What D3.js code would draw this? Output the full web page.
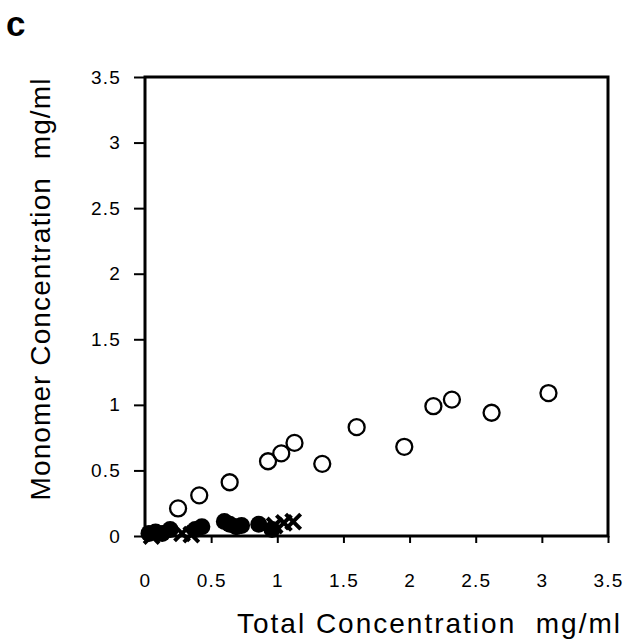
<!DOCTYPE html>
<html><head><meta charset="utf-8">
<script src="https://cdn.jsdelivr.net/npm/d3@7/dist/d3.min.js"></script>
<style>body{margin:0;background:#fff}</style>
</head><body>
<svg id="c" width="632" height="641"></svg>
<script>
// Data
const xTicks = [0, 0.5, 1, 1.5, 2, 2.5, 3, 3.5];
const yTicks = [0, 0.5, 1, 1.5, 2, 2.5, 3, 3.5];
const openX = [0.25, 0.41, 0.64, 0.93, 1.03, 1.13, 1.34, 1.60, 1.96, 2.18, 2.32, 2.62, 3.05];
const openY = [0.21, 0.31, 0.41, 0.57, 0.63, 0.71, 0.55, 0.83, 0.68, 0.99, 1.04, 0.94, 1.09];
const filledX = [0.03, 0.08, 0.13, 0.19, 0.38, 0.43, 0.60, 0.64, 0.69, 0.73, 0.86, 0.96];
const filledY = [0.02, 0.03, 0.02, 0.05, 0.05, 0.07, 0.11, 0.09, 0.07, 0.08, 0.09, 0.05];
const crossX = [0.05, 0.28, 0.35, 0.98, 1.05, 1.12];
const crossY = [0.00, 0.02, 0.01, 0.08, 0.10, 0.11];

const svg = d3.select('#c');
const L = 145, R = 608, T = 77, B = 536;
const x = d3.scaleLinear().domain([0, 3.5]).range([L, R]);
const y = d3.scaleLinear().domain([0, 3.5]).range([B, T]);
const font = '"Liberation Sans", Arial, Helvetica, sans-serif';

// axes
const xAxis = svg.append('g').attr('transform', `translate(0,${B})`)
  .call(d3.axisBottom(x).tickValues(xTicks).tickSize(7).tickPadding(31).tickFormat(d3.format('')));
const yAxis = svg.append('g').attr('transform', `translate(${L},0)`)
  .call(d3.axisLeft(y).tickValues(yTicks).tickSize(11).tickPadding(13).tickFormat(d3.format('')));
[xAxis, yAxis].forEach(a => {
  a.select('.domain').remove();
  a.selectAll('line').attr('stroke', '#000').attr('stroke-width', 2);
  a.selectAll('text').attr('font-family', font).attr('font-size', 19).attr('letter-spacing', 1.2).attr('fill', '#000');
});

// frame
svg.append('rect').attr('x', L).attr('y', T).attr('width', R - L).attr('height', B - T)
  .attr('fill', 'none').attr('stroke', '#000').attr('stroke-width', 3);

// data: open circles
svg.append('g').selectAll('circle').data(openX).join('circle')
  .attr('cx', (d) => x(d)).attr('cy', (d, i) => y(openY[i])).attr('r', 8)
  .attr('fill', 'none').attr('stroke', '#000').attr('stroke-width', 2.3);
// filled circles
svg.append('g').selectAll('circle').data(filledX).join('circle')
  .attr('cx', (d) => x(d)).attr('cy', (d, i) => y(filledY[i])).attr('r', 8.5)
  .attr('fill', '#000');
// crosses
const cs = 7.5;
svg.append('g').selectAll('path').data(crossX).join('path')
  .attr('d', (d, i) => {
    const cx = x(d), cy = y(crossY[i]);
    return `M${cx - cs},${cy - cs}L${cx + cs},${cy + cs}M${cx - cs},${cy + cs}L${cx + cs},${cy - cs}`;
  })
  .attr('stroke', '#000').attr('stroke-width', 4).attr('fill', 'none');

// titles
svg.append('text').attr('x', 622).attr('y', 633).attr('text-anchor', 'end')
  .attr('font-family', font).attr('font-size', 28).attr('letter-spacing', 2)
  .text('Total Concentration\u00a0\u00a0mg/ml');
svg.append('text').attr('transform', 'translate(50,289) rotate(-90)').attr('text-anchor', 'middle')
  .attr('font-family', font).attr('font-size', 28).attr('letter-spacing', 1.1)
  .text('Monomer Concentration\u00a0\u00a0mg/ml');
svg.append('text').attr('x', 6).attr('y', 36)
  .attr('font-family', font).attr('font-size', 35).attr('font-weight', 'bold')
  .text('c');
</script>
</body></html>
